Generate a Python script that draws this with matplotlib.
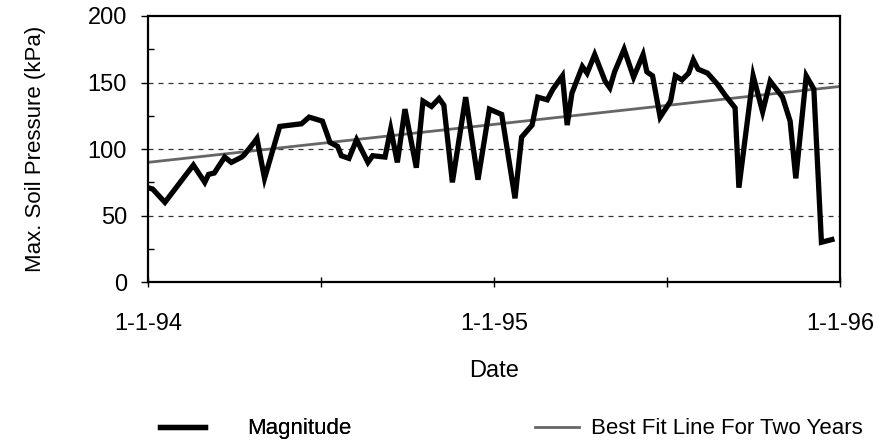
import matplotlib
matplotlib.use("Agg")
import matplotlib.pyplot as plt
import matplotlib.dates as mdates
import numpy as np

plt.rcParams['font.family'] = ['Liberation Sans', 'DejaVu Sans']

# readings of the magnitude curve (kPa)
dates = ['1994-01-01', '1994-01-06', '1994-01-19', '1994-02-18', '1994-03-02',
         '1994-03-06', '1994-03-12', '1994-03-23', '1994-03-30', '1994-04-10',
         '1994-04-13', '1994-04-23', '1994-04-26', '1994-05-04', '1994-05-20',
         '1994-06-12', '1994-06-20', '1994-07-04', '1994-07-12', '1994-07-20',
         '1994-07-24', '1994-08-01', '1994-08-09', '1994-08-21', '1994-08-26',
         '1994-09-08', '1994-09-14', '1994-09-21', '1994-09-29', '1994-10-11',
         '1994-10-18', '1994-10-27', '1994-11-04', '1994-11-09', '1994-11-18',
         '1994-12-02', '1994-12-15', '1994-12-27', '1995-01-09', '1995-01-23',
         '1995-01-30', '1995-02-10', '1995-02-16', '1995-02-26', '1995-03-04',
         '1995-03-14', '1995-03-19', '1995-03-24', '1995-04-04', '1995-04-09',
         '1995-04-17', '1995-04-28', '1995-05-03', '1995-05-08', '1995-05-18',
         '1995-05-28', '1995-06-07', '1995-06-11', '1995-06-17', '1995-06-25',
         '1995-07-06', '1995-07-11', '1995-07-18', '1995-07-25', '1995-07-30',
         '1995-08-04', '1995-08-14', '1995-08-24', '1995-09-02', '1995-09-12',
         '1995-09-16', '1995-10-01', '1995-10-11', '1995-10-19', '1995-11-01',
         '1995-11-09', '1995-11-15', '1995-11-26', '1995-12-04', '1995-12-12',
         '1995-12-23']
magnitude = [71, 70, 60, 88, 75,
             81, 82, 94, 90, 94,
             96, 105, 108, 78, 117,
             119, 124, 121, 105, 102,
             95, 93, 107, 90, 95,
             94, 115, 90, 130, 86,
             136, 132, 138, 133, 75,
             139, 77, 130, 126, 63,
             109, 118, 139, 137, 145,
             155, 118, 142, 162, 157,
             171, 151, 146, 158, 175,
             154, 171, 158, 155, 124,
             136, 155, 152, 157, 167,
             160, 157, 149, 140, 131,
             71, 155, 128, 151, 139,
             121, 78, 155, 145, 30,
             32]

# best fit line end points
fit_dates = ['1994-01-01', '1995-12-31']
fit_vals = [90, 147]

x = mdates.datestr2num(dates)
xf = mdates.datestr2num(fit_dates)

fig = plt.figure(figsize=(8.8, 4.43), dpi=100)
ax = fig.add_axes([0.168, 0.363, 0.787, 0.601])

for g in [50, 100, 150]:
    ax.axhline(g, color='#333333', lw=0.9, ls=(0, (4, 4)), zorder=1)

fit_line, = ax.plot(xf, fit_vals, color='#666666', lw=2.0, zorder=2)
mag_line, = ax.plot(x, magnitude, color='black', lw=3.8, solid_joinstyle='miter', zorder=3)

ax.set_xlim(mdates.datestr2num('1994-01-01'), mdates.datestr2num('1996-01-01'))
ax.set_ylim(0, 200)

ax.set_yticks([0, 50, 100, 150, 200])
ax.set_yticks(np.arange(0, 201, 25), minor=True)
ax.set_xticks(mdates.datestr2num(['1994-01-01', '1995-01-01', '1996-01-01']))
ax.set_xticklabels(['1-1-94', '1-1-95', '1-1-96'])
ax.set_xticks(mdates.datestr2num(['1994-07-02', '1995-07-02']), minor=True)

ax.tick_params(axis='y', which='major', direction='out', length=5, width=1, pad=10, labelsize=17)
ax.tick_params(axis='y', which='minor', direction='in', length=4, width=1)
ax.tick_params(axis='x', which='both', direction='inout', length=7, width=1, pad=19, labelsize=17)

for s in ax.spines.values():
    s.set_linewidth(1.6)

ax.set_xlabel('Date', fontsize=17, labelpad=18)
ax.set_ylabel('Max. Soil Pressure (kPa)', fontsize=16, labelpad=30)

# two legend entries, placed separately like the original
leg1 = fig.legend([mag_line], ['Magnitude'], loc='lower left', bbox_to_anchor=(0.182, 0.008),
                  frameon=False, fontsize=16, handlelength=2.0, handletextpad=1.9,
                  borderpad=0, borderaxespad=0)
fig.add_artist(leg1)
leg2 = fig.legend([fit_line], ['Best Fit Line For Two Years'], loc='lower left',
                  bbox_to_anchor=(0.608, 0.008), frameon=False, fontsize=16,
                  handlelength=2.0, handletextpad=0.5, borderpad=0, borderaxespad=0)

fig.savefig('out.png', dpi=100)
